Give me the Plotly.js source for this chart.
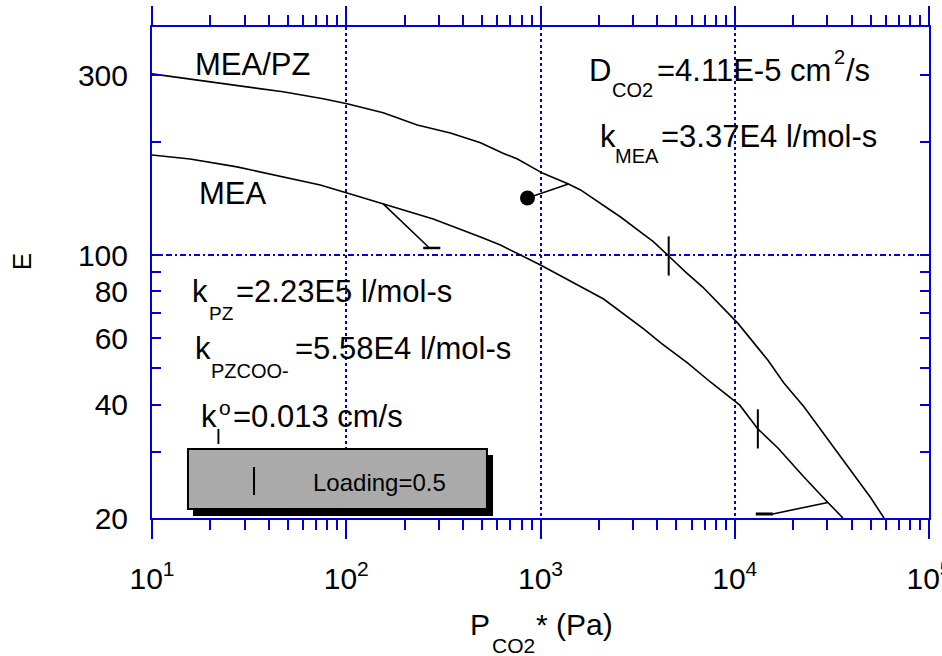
<!DOCTYPE html>
<html>
<head>
<meta charset="utf-8">
<script src="https://cdn.plot.ly/plotly-3.0.1.min.js"></script>
<style>html,body{margin:0;padding:0;background:#fff;}</style>
</head>
<body>
<div id="chart" style="width:942px;height:656px;"></div>
<script>
// ---- data ----
const meaPzX = [10, 21.6, 47.3, 76, 101, 155, 232, 343.7, 491, 637, 761, 1023, 1393, 1607, 2038, 2584, 3277, 3823, 4570, 5590, 6840, 8270, 10360, 14790, 17900, 22700, 27760, 33960, 50240, 58650];
const meaPzY = [303, 286.5, 271.5, 260.2, 252.3, 238.8, 221.6, 211, 198.7, 186.7, 179.9, 165.1, 154.5, 148.9, 137.4, 126.2, 115.1, 108.3, 99.4, 90.1, 82.2, 74.5, 65.9, 52.6, 45.7, 39.5, 34.3, 29.7, 22.6, 20.0];
const meaX = [10, 15.7, 27.4, 47.3, 73.5, 101, 155, 280.5, 491, 622, 1000, 1393, 2113, 3395, 4160, 5730, 7520, 10620, 13150, 16680, 22700, 30150, 36060];
const meaY = [184.5, 180, 171.5, 161, 153.5, 146.2, 136.7, 124.7, 111.6, 106.3, 94.1, 85.8, 76.4, 63.6, 58.4, 51.6, 45.9, 39.9, 34.5, 30.7, 25.7, 22.0, 20.0];
const loadingX = [4570, 13150];
const loadingY = [99.4, 34.5];
const pointX = [857];
const pointY = [141.8];
const leader1X = [857, 1393];
const leader1Y = [141.8, 154.5];
const leader2X = [155, 268];
const leader2Y = [136.7, 104.4];
const bar2X = [249, 305];
const bar2Y = [104.4, 104.4];
const leader3X = [30150, 15710];
const leader3Y = [22.0, 20.5];
const bar3X = [12830, 15710];
const bar3Y = [20.5, 20.5];

const xTickVals = [10, 100, 1000, 10000, 100000];
const xTickText = ['10<sup>1</sup>', '10<sup>2</sup>', '10<sup>3</sup>', '10<sup>4</sup>', '10<sup>5</sup>'];
const yTickVals = [20, 30, 40, 50, 60, 70, 80, 90, 100, 200, 300];
const yTickText = ['20', '', '40', '', '60', '', '80', '', '100', '', '300'];
const gridY = [100];

const xMinor = [];
for (let e = 1; e < 5; e++) for (let m = 2; m <= 9; m++) xMinor.push(m * Math.pow(10, e));

const BLUE = '#0000dd';
const FONT = 'Arial, "Liberation Sans", sans-serif';

const lineStyle = {color: '#000', width: 1.6};
const traces = [
  {x: meaPzX, y: meaPzY, mode: 'lines', line: lineStyle, hoverinfo: 'skip'},
  {x: meaX, y: meaY, mode: 'lines', line: lineStyle, hoverinfo: 'skip'},
  {x: leader1X, y: leader1Y, mode: 'lines', line: lineStyle, hoverinfo: 'skip'},
  {x: leader2X, y: leader2Y, mode: 'lines', line: lineStyle, hoverinfo: 'skip'},
  {x: bar2X, y: bar2Y, mode: 'lines', line: {color: '#000', width: 2.5}, hoverinfo: 'skip'},
  {x: leader3X, y: leader3Y, mode: 'lines', line: lineStyle, hoverinfo: 'skip'},
  {x: bar3X, y: bar3Y, mode: 'lines', line: {color: '#000', width: 3}, hoverinfo: 'skip'},
  {x: pointX, y: pointY, mode: 'markers', marker: {color: '#000', size: 15}, hoverinfo: 'skip'},
  {x: loadingX, y: loadingY, mode: 'markers', marker: {symbol: 'line-ns', size: 28, line: {color: '#000', width: 2}}, hoverinfo: 'skip'}
];

const shapes = [];
gridY.forEach(v => shapes.push({type: 'line', xref: 'paper', yref: 'y', x0: 0, x1: 1, y0: v, y1: v, layer: 'below',
  line: {color: BLUE, width: 2, dash: '6px,3px,2px,3px'}}));
// legend box (shadow + gray box + sample mark)
shapes.push({type: 'rect', xref: 'paper', yref: 'paper', x0: 0.0528, x1: 0.4389, y0: 0.0041, y1: 0.1283, fillcolor: '#000', line: {width: 0}, layer: 'above'});
shapes.push({type: 'rect', xref: 'paper', yref: 'paper', x0: 0.0463, x1: 0.4311, y0: 0.0183, y1: 0.1405, fillcolor: '#aaaaaa', line: {color: '#000', width: 2}, layer: 'above'});
shapes.push({type: 'line', xref: 'paper', yref: 'paper', x0: 0.1313, x1: 0.1313, y0: 0.0468, y1: 0.1039, line: {color: '#000', width: 2}, layer: 'above'});

const ann = (text, x, y, size, extra) => Object.assign({text, x, y, xref: 'paper', yref: 'paper', xanchor: 'left', yanchor: 'middle', showarrow: false, font: {family: FONT, size, color: '#000'}}, extra || {});

const annotations = [
  ann('MEA/PZ', 0.0528, 0.9246, 31),
  ann('MEA', 0.058, 0.66, 31),
  // D_CO2 = 4.11E-5 cm^2/s
  ann('D', 0.5598, 0.912, 31),
  ann('CO2', 0.5894, 0.8713, 20),
  ann('=4.11E-5 cm', 0.6474, 0.912, 31),
  ann('2', 0.8752, 0.9389, 20),
  ann('/s', 0.8906, 0.912, 31),
  // k_MEA
  ann('k', 0.5740, 0.776, 31),
  ann('MEA', 0.5933, 0.7373, 20),
  ann('=3.37E4 l/mol-s', 0.6525, 0.776, 31),
  // k_PZ
  ann('k', 0.0489, 0.4623, 31),
  ann('PZ', 0.0708, 0.4175, 19),
  ann('=2.23E5 l/mol-s', 0.1055, 0.4623, 31),
  // k_PZCOO-
  ann('k', 0.0528, 0.3462, 31),
  ann('PZCOO-', 0.0734, 0.3004, 20),
  ann('=5.58E4 l/mol-s', 0.1815, 0.3462, 31),
  // k_l^o
  ann('k', 0.0605, 0.2077, 31),
  ann('l', 0.0798, 0.1654, 21),
  ann('o', 0.0837, 0.2251, 21),
  ann('=0.013 cm/s', 0.1017, 0.2077, 31),
  // legend text
  ann('Loading=0.5', 0.2046, 0.0733, 24),
  // axis titles
  ann('P', 0.4067, -0.2159, 30),
  ann('CO2', 0.4350, -0.2597, 21),
  ann('* (Pa)', 0.4916, -0.2159, 30),
  ann('E', -0.1673, 0.521, 26, {xanchor: 'center', textangle: -90})
];

const layout = {
  width: 942, height: 656,
  margin: {l: 152, r: 13, t: 27, b: 138},
  paper_bgcolor: '#fff', plot_bgcolor: '#fff',
  showlegend: false,
  font: {family: FONT, color: '#000'},
  xaxis: {
    type: 'log', range: [0.99999, 5.00001], tickmode: 'array', tickvals: xTickVals, ticktext: xTickText,
    ticks: 'outside', ticklen: 19, tickwidth: 2, tickcolor: BLUE,
    showline: true, linecolor: BLUE, linewidth: 2, mirror: 'ticks',
    showgrid: true, gridcolor: BLUE, gridwidth: 2, griddash: '3px,3px', zeroline: false,
    tickfont: {family: FONT, size: 30, color: '#000'}, ticklabelstandoff: 14, ticklabeloverflow: 'allow',
    minor: {tickmode: 'array', tickvals: xMinor, ticks: 'outside', ticklen: 10, tickwidth: 2, tickcolor: BLUE, showgrid: false}
  },
  yaxis: {
    type: 'log', range: [Math.log10(20), 2.606], tickmode: 'array', tickvals: yTickVals, ticktext: yTickText,
    ticks: 'inside', ticklen: 9, tickwidth: 2, tickcolor: BLUE,
    showline: true, linecolor: BLUE, linewidth: 2, mirror: 'ticks',
    showgrid: false, zeroline: false,
    tickfont: {family: FONT, size: 30, color: '#000'}, ticklabelstandoff: 16
  },
  shapes, annotations
};

Plotly.newPlot('chart', traces, layout, {staticPlot: true, displayModeBar: false});
</script>
</body>
</html>
